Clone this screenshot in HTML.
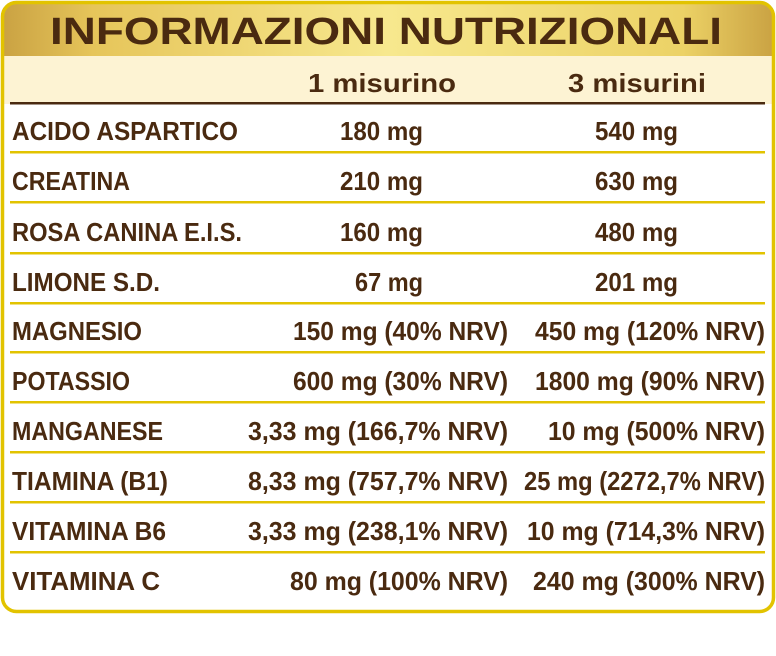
<!DOCTYPE html>
<html><head><meta charset="utf-8"><style>
html,body{margin:0;padding:0;background:#fff;width:776px;height:656px;overflow:hidden}
svg{display:block}
text{font-family:"Liberation Sans",sans-serif;font-weight:bold;fill:#4a2a10}
</style></head><body>
<svg width="776" height="656" viewBox="0 0 776 656" xmlns="http://www.w3.org/2000/svg">
<defs>
<linearGradient id="g" x1="0" y1="0" x2="1" y2="0">
<stop offset="0" stop-color="#c9a142"/>
<stop offset="0.12" stop-color="#e6c55a"/>
<stop offset="0.5" stop-color="#f7e88e"/>
<stop offset="0.88" stop-color="#ecd266"/>
<stop offset="1" stop-color="#c9a142"/>
</linearGradient>
<clipPath id="c"><rect x="2.5" y="2.5" width="771" height="609" rx="14"/></clipPath>
</defs>
<g clip-path="url(#c)">
<rect x="0" y="0" width="776" height="56" fill="url(#g)"/>
<rect x="0" y="56" width="776" height="48" fill="#fdf3d3"/>
</g>
<rect x="2.5" y="2.5" width="771" height="609" rx="14" fill="none" stroke="#e2c300" stroke-width="3.5"/>
<text x="386" y="44" text-anchor="middle" font-size="38" textLength="672" lengthAdjust="spacingAndGlyphs">INFORMAZIONI NUTRIZIONALI</text>
<text x="382" y="92" text-anchor="middle" font-size="26" textLength="148" lengthAdjust="spacingAndGlyphs">1 misurino</text>
<text x="637" y="92" text-anchor="middle" font-size="26" textLength="138" lengthAdjust="spacingAndGlyphs">3 misurini</text>
<rect x="10" y="102" width="755" height="2.5" fill="#4a2a10"/>
<g fill="#e2c300">
<rect x="10" y="151" width="755" height="2.5"/><rect x="10" y="201" width="755" height="2.5"/>
<rect x="10" y="252" width="755" height="2.5"/><rect x="10" y="302" width="755" height="2.5"/>
<rect x="10" y="351" width="755" height="2.5"/><rect x="10" y="401" width="755" height="2.5"/>
<rect x="10" y="451" width="755" height="2.5"/><rect x="10" y="501" width="755" height="2.5"/>
<rect x="10" y="551" width="755" height="2.5"/>
</g>
<g font-size="26">
<text x="12" y="140" textLength="226" lengthAdjust="spacingAndGlyphs">ACIDO ASPARTICO</text>
<text x="12" y="190" textLength="118" lengthAdjust="spacingAndGlyphs">CREATINA</text>
<text x="12" y="241" textLength="230" lengthAdjust="spacingAndGlyphs">ROSA CANINA E.I.S.</text>
<text x="12" y="291" textLength="148" lengthAdjust="spacingAndGlyphs">LIMONE S.D.</text>
<text x="12" y="340" textLength="130" lengthAdjust="spacingAndGlyphs">MAGNESIO</text>
<text x="12" y="390" textLength="118" lengthAdjust="spacingAndGlyphs">POTASSIO</text>
<text x="12" y="440" textLength="151" lengthAdjust="spacingAndGlyphs">MANGANESE</text>
<text x="12" y="490" textLength="156" lengthAdjust="spacingAndGlyphs">TIAMINA (B1)</text>
<text x="12" y="540" textLength="154" lengthAdjust="spacingAndGlyphs">VITAMINA B6</text>
<text x="12" y="590" textLength="148" lengthAdjust="spacingAndGlyphs">VITAMINA C</text>

<text x="423" y="140" text-anchor="end" textLength="83" lengthAdjust="spacingAndGlyphs">180 mg</text>
<text x="423" y="190" text-anchor="end" textLength="83" lengthAdjust="spacingAndGlyphs">210 mg</text>
<text x="423" y="241" text-anchor="end" textLength="83" lengthAdjust="spacingAndGlyphs">160 mg</text>
<text x="423" y="291" text-anchor="end" textLength="68" lengthAdjust="spacingAndGlyphs">67 mg</text>
<text x="508" y="340" text-anchor="end" textLength="215" lengthAdjust="spacingAndGlyphs">150 mg (40% NRV)</text>
<text x="508" y="390" text-anchor="end" textLength="215" lengthAdjust="spacingAndGlyphs">600 mg (30% NRV)</text>
<text x="508" y="440" text-anchor="end" textLength="260" lengthAdjust="spacingAndGlyphs">3,33 mg (166,7% NRV)</text>
<text x="508" y="490" text-anchor="end" textLength="260" lengthAdjust="spacingAndGlyphs">8,33 mg (757,7% NRV)</text>
<text x="508" y="540" text-anchor="end" textLength="260" lengthAdjust="spacingAndGlyphs">3,33 mg (238,1% NRV)</text>
<text x="508" y="590" text-anchor="end" textLength="218" lengthAdjust="spacingAndGlyphs">80 mg (100% NRV)</text>

<text x="678" y="140" text-anchor="end" textLength="83" lengthAdjust="spacingAndGlyphs">540 mg</text>
<text x="678" y="190" text-anchor="end" textLength="83" lengthAdjust="spacingAndGlyphs">630 mg</text>
<text x="678" y="241" text-anchor="end" textLength="83" lengthAdjust="spacingAndGlyphs">480 mg</text>
<text x="678" y="291" text-anchor="end" textLength="83" lengthAdjust="spacingAndGlyphs">201 mg</text>
<text x="765" y="340" text-anchor="end" textLength="230" lengthAdjust="spacingAndGlyphs">450 mg (120% NRV)</text>
<text x="765" y="390" text-anchor="end" textLength="230" lengthAdjust="spacingAndGlyphs">1800 mg (90% NRV)</text>
<text x="765" y="440" text-anchor="end" textLength="217" lengthAdjust="spacingAndGlyphs">10 mg (500% NRV)</text>
<text x="765" y="490" text-anchor="end" textLength="241" lengthAdjust="spacingAndGlyphs">25 mg (2272,7% NRV)</text>
<text x="765" y="540" text-anchor="end" textLength="238" lengthAdjust="spacingAndGlyphs">10 mg (714,3% NRV)</text>
<text x="765" y="590" text-anchor="end" textLength="232" lengthAdjust="spacingAndGlyphs">240 mg (300% NRV)</text>
</g>
</svg>
</body></html>
